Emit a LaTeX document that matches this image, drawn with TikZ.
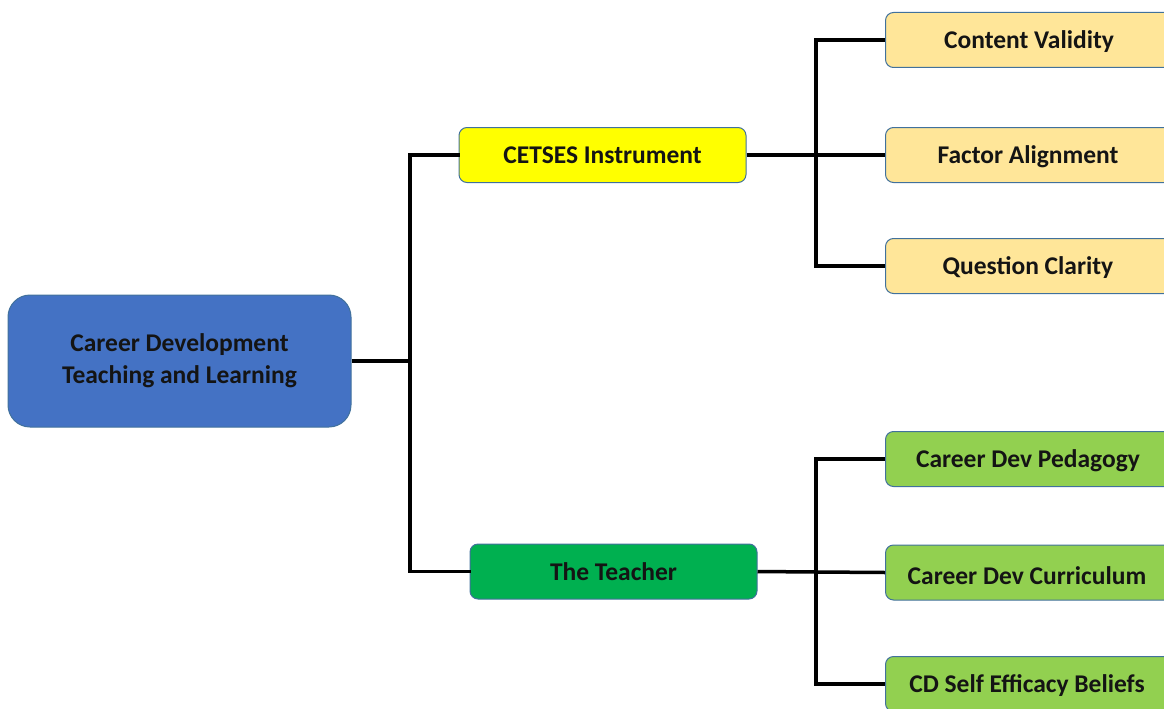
\documentclass[tikz,border=0pt]{standalone}
\usepackage{fontspec}
\setmainfont{Carlito}
\definecolor{rootblue}{HTML}{4472C4}
\definecolor{edgeblue}{HTML}{41719C}
\definecolor{cetyellow}{HTML}{FFFF00}
\definecolor{teachgreen}{HTML}{00B050}
\definecolor{leafgold}{HTML}{FFE699}
\definecolor{leafgreen}{HTML}{92D050}
\begin{document}
\begin{tikzpicture}[x=1pt,y=-1pt,
  box/.style={draw=edgeblue, line width=1pt, rounded corners=8pt, inner sep=0pt,
    font=\fontsize{25.5}{30}\selectfont\bfseries, text=black!92},
  rootbox/.style={box, rounded corners=22pt, minimum width=343pt, minimum height=132pt,
    fill=rootblue, align=center},
  midbox/.style={box, minimum width=287pt, minimum height=55pt},
  leafbox/.style={box, minimum width=300pt, minimum height=55pt, anchor=west},
  label/.style={box, draw=none, anchor=center},
  link/.style={draw=black, line width=3.5pt}
]
\useasboundingbox (0,0) rectangle (1164,709);
\clip (0,0) rectangle (1164,709);

% root
\node[rootbox] (root) at (179.5,361) {Career Development\\[2pt]Teaching and Learning};

% second level
\node[midbox, fill=cetyellow] (cet) at (602.5,155) {CETSES Instrument};
\node[midbox, fill=teachgreen] (teach) at (613.5,571.5) {The Teacher};

% leaves (they run past the right edge)
\node[leafbox, fill=leafgold] (cv) at (885,40) {};
\node[leafbox, fill=leafgold] (fa) at (885,155) {};
\node[leafbox, fill=leafgold] (qc) at (885,266) {};
\node[leafbox, fill=leafgreen] (pe) at (885,459) {};
\node[leafbox, fill=leafgreen] (cu) at (885,572.5) {};
\node[leafbox, fill=leafgreen] (se) at (885,684) {};

\node[label] (cvt) at (1029,42) {Content Validity};
\node[label] (fat) at (1028,157) {Factor Alignment};
\node[label] (qct) at (1028,268) {Question Clarity};
\node[label] (pet) at (1028,461) {Career Dev Pedagogy};
\node[label] (cut) at (1027,576) {Career Dev Curriculum};
\node[label] (set) at (1027,686) {CD Self Efficacy Beliefs};

% connectors
\coordinate (j0) at (410,361);
\draw[link] (root.east) -- (j0);
\draw[link, line cap=rect] (cet.west) -| (j0) |- (teach.west);

\coordinate (j2) at (816,572);
\draw[link] (cet.east) -- (fa.west);
\draw[link] (cv.west) -| (816,155) |- (qc.west);

\draw[link] (teach.east) -- (j2) -- (cu.west);
\draw[link] (pe.west) -| (j2) |- (se.west);
\end{tikzpicture}
\end{document}
